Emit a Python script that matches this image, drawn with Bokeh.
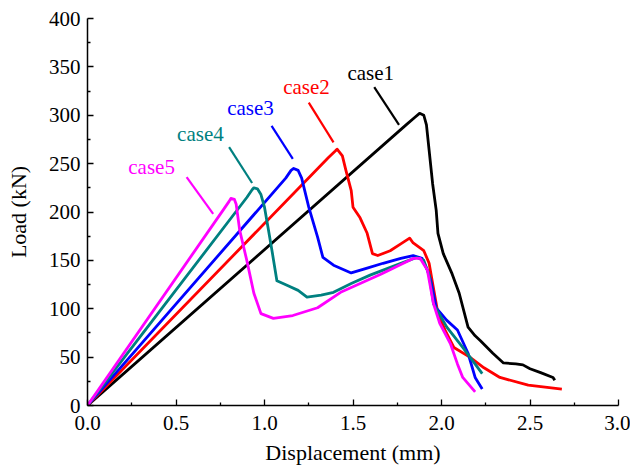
from bokeh.plotting import figure
from bokeh.models import Range1d, FixedTicker
from bokeh.core.properties import value
from bokeh.embed import file_html
from bokeh.resources import INLINE

# ---- data (Displacement in mm, Load in kN) ----
case1_x = [0, 1.80, 1.85, 1.876, 1.90, 1.915, 1.93, 1.95, 1.97, 1.98, 2.01, 2.06, 2.10, 2.15, 2.19, 2.22, 2.29, 2.35, 2.42, 2.46, 2.50, 2.56, 2.63, 2.64]
case1_y = [0, 290, 298, 302, 300, 290, 264, 229, 202, 178, 157, 136, 116, 81, 72, 67, 54, 44, 43, 42, 38, 34, 29, 26]

case2_x = [0, 1.36, 1.40, 1.41, 1.44, 1.46, 1.49, 1.50, 1.54, 1.58, 1.61, 1.64, 1.71, 1.77, 1.82, 1.84, 1.90, 1.93, 1.95, 1.98, 2.02, 2.07, 2.16, 2.24, 2.33, 2.49, 2.68]
case2_y = [0, 256, 263, 265, 258, 243, 222, 205, 194, 178, 157, 155, 160, 167, 173, 168, 160, 147, 126, 95, 78, 60, 50, 39, 29, 21, 17]

case3_x = [0, 1.12, 1.15, 1.165, 1.19, 1.21, 1.25, 1.30, 1.33, 1.39, 1.49, 1.58, 1.67, 1.77, 1.84, 1.89, 1.92, 1.94, 1.97, 2.03, 2.09, 2.15, 2.19, 2.23]
case3_y = [0, 235, 243, 245, 243, 235, 205, 174, 153, 145, 137, 142, 147, 152, 155, 152, 140, 129, 101, 88, 78, 54, 29, 17]

case4_x = [0, 0.90, 0.93, 0.94, 0.96, 0.98, 1.00, 1.02, 1.045, 1.07, 1.13, 1.19, 1.24, 1.32, 1.39, 1.49, 1.60, 1.70, 1.80, 1.86, 1.90, 1.93, 1.955, 2.03, 2.12, 2.23]
case4_y = [0, 215, 223, 225, 224, 218, 205, 184, 157, 129, 124, 119, 112, 114, 117, 126, 135, 142, 149, 153, 150, 135, 105, 81, 60, 33]

case5_x = [0, 0.77, 0.80, 0.81, 0.83, 0.84, 0.86, 0.90, 0.94, 0.98, 1.05, 1.16, 1.30, 1.43, 1.49, 1.66, 1.75, 1.84, 1.88, 1.92, 1.955, 1.99, 2.05, 2.09, 2.12, 2.19]
case5_y = [0, 203, 211, 214, 213, 208, 181, 150, 116, 95, 90, 93, 101, 117, 122, 136, 144, 152, 152, 140, 105, 85, 64, 43, 29, 14]

names = ["case1", "case2", "case3", "case4", "case5"]
colors = ["#000000", "#FF0000", "#0000FF", "#008080", "#FF00FF"]

# annotation label centres and pointer segments (data coords)
label_x = [1.60, 1.237, 0.921, 0.638, 0.362]
label_y = [344, 329, 307, 281, 246]
ptr_x0 = [1.62, 1.25, 1.04, 0.80, 0.56]
ptr_y0 = [329, 313, 289, 267, 236]
ptr_x1 = [1.76, 1.39, 1.16, 0.93, 0.71]
ptr_y1 = [290, 272, 255, 230, 198]

x_ticks = [0.0, 0.5, 1.0, 1.5, 2.0, 2.5, 3.0]
y_ticks = [0, 50, 100, 150, 200, 250, 300, 350, 400]

FONT = "Liberation Serif"

p = figure(width=630, height=467, output_backend="svg", toolbar_location=None,
           x_range=Range1d(0, 3.0), y_range=Range1d(0, 400),
           min_border_left=87, min_border_right=12, min_border_top=18, min_border_bottom=62)
p.outline_line_color = None
p.grid.visible = False
p.background_fill_color = "white"
p.border_fill_color = "white"

series = [(case1_x, case1_y), (case2_x, case2_y), (case3_x, case3_y), (case4_x, case4_y), (case5_x, case5_y)]
for (xs, ys), c in zip(series, colors):
    p.line(xs, ys, line_color=c, line_width=2.8, line_join="round")

for i in range(5):
    p.segment(x0=[ptr_x0[i]], y0=[ptr_y0[i]], x1=[ptr_x1[i]], y1=[ptr_y1[i]],
              line_color=colors[i], line_width=2.2)
    p.text(x=[label_x[i]], y=[label_y[i]], text=[names[i]], text_color=colors[i],
           text_font=value(FONT), text_font_size="21px",
           text_align="center", text_baseline="middle")

p.xaxis.ticker = FixedTicker(ticks=x_ticks, minor_ticks=[0.25, 0.75, 1.25, 1.75, 2.25, 2.75])
p.yaxis.ticker = FixedTicker(ticks=y_ticks, minor_ticks=[25, 75, 125, 175, 225, 275, 325, 375])
p.xaxis.major_label_overrides = {t: f"{t:.1f}" for t in x_ticks}
p.xaxis.axis_label = "Displacement (mm)"
p.yaxis.axis_label = "Load (kN)"

for ax in (p.xaxis[0], p.yaxis[0]):
    ax.axis_line_color = "black"
    ax.axis_line_width = 1.5
    ax.major_tick_in = 6
    ax.major_tick_out = 0
    ax.minor_tick_in = 3
    ax.minor_tick_out = 0
    ax.major_tick_line_color = "black"
    ax.minor_tick_line_color = "black"
    ax.major_tick_line_width = 1.3
    ax.minor_tick_line_width = 1.3
    ax.major_label_text_font = FONT
    ax.major_label_text_font_size = "21px"
    ax.major_label_text_color = "black"
    ax.axis_label_text_font = FONT
    ax.axis_label_text_font_size = "22px"
    ax.axis_label_text_font_style = "normal"
    ax.axis_label_text_color = "black"

p.xaxis.major_label_standoff = 10
p.xaxis.axis_label_standoff = 7
p.yaxis.major_label_standoff = 7
p.yaxis.axis_label_standoff = 15

open("out.html", "w").write(file_html(p, INLINE))
